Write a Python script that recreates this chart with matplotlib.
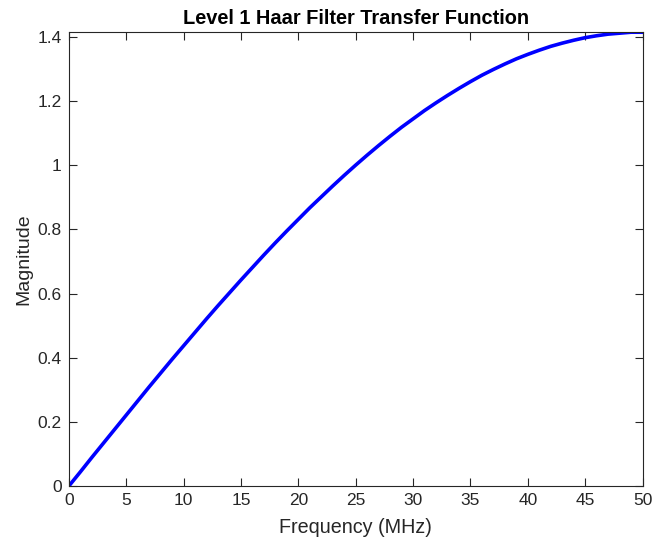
import matplotlib
matplotlib.use("Agg")
from matplotlib import pyplot as plt

plt.rcParams['font.family'] = ['Liberation Sans', 'DejaVu Sans']

# values, one per MHz
freq_mhz = list(range(0, 51))
magnitude = [0.000, 0.044, 0.089, 0.133, 0.177, 0.221, 0.265, 0.309, 0.352, 0.395,
             0.437, 0.479, 0.521, 0.562, 0.602, 0.642, 0.681, 0.720, 0.758, 0.795,
             0.831, 0.867, 0.901, 0.935, 0.968, 1.000, 1.031, 1.061, 1.090, 1.118,
             1.144, 1.170, 1.194, 1.217, 1.239, 1.260, 1.280, 1.298, 1.315, 1.331,
             1.345, 1.358, 1.370, 1.380, 1.389, 1.397, 1.403, 1.408, 1.411, 1.414,
             1.414]
x_ticks = [0, 5, 10, 15, 20, 25, 30, 35, 40, 45, 50]
y_ticks = [0, 0.2, 0.4, 0.6, 0.8, 1, 1.2, 1.4]
y_tick_labels = ['0', '0.2', '0.4', '0.6', '0.8', '1', '1.2', '1.4']

fig = plt.figure(figsize=(6.55, 5.45), dpi=100)
ax = fig.add_axes([0.105, 0.108, 0.876, 0.833])

ax.plot(freq_mhz, magnitude, color='#0000ff', linewidth=2.6)

ax.set_xlim(0, 50)
ax.set_ylim(0, 1.4142)
ax.set_xticks(x_ticks)
ax.set_yticks(y_ticks)
ax.set_yticklabels(y_tick_labels)
ax.tick_params(direction='in', top=True, right=True, labelsize=12.5, colors='#262626',
               length=6, width=0.8, pad=5)
for spine in ax.spines.values():
    spine.set_color('#262626')
    spine.set_linewidth(0.8)

ax.set_xlabel('Frequency (MHz)', fontsize=14.2, color='#262626', labelpad=7)
ax.set_ylabel('Magnitude', fontsize=14, color='#262626', labelpad=4)
ax.set_title('Level 1 Haar Filter Transfer Function', fontsize=14.4, fontweight='bold', pad=6)

fig.savefig('out.png', dpi=100)
